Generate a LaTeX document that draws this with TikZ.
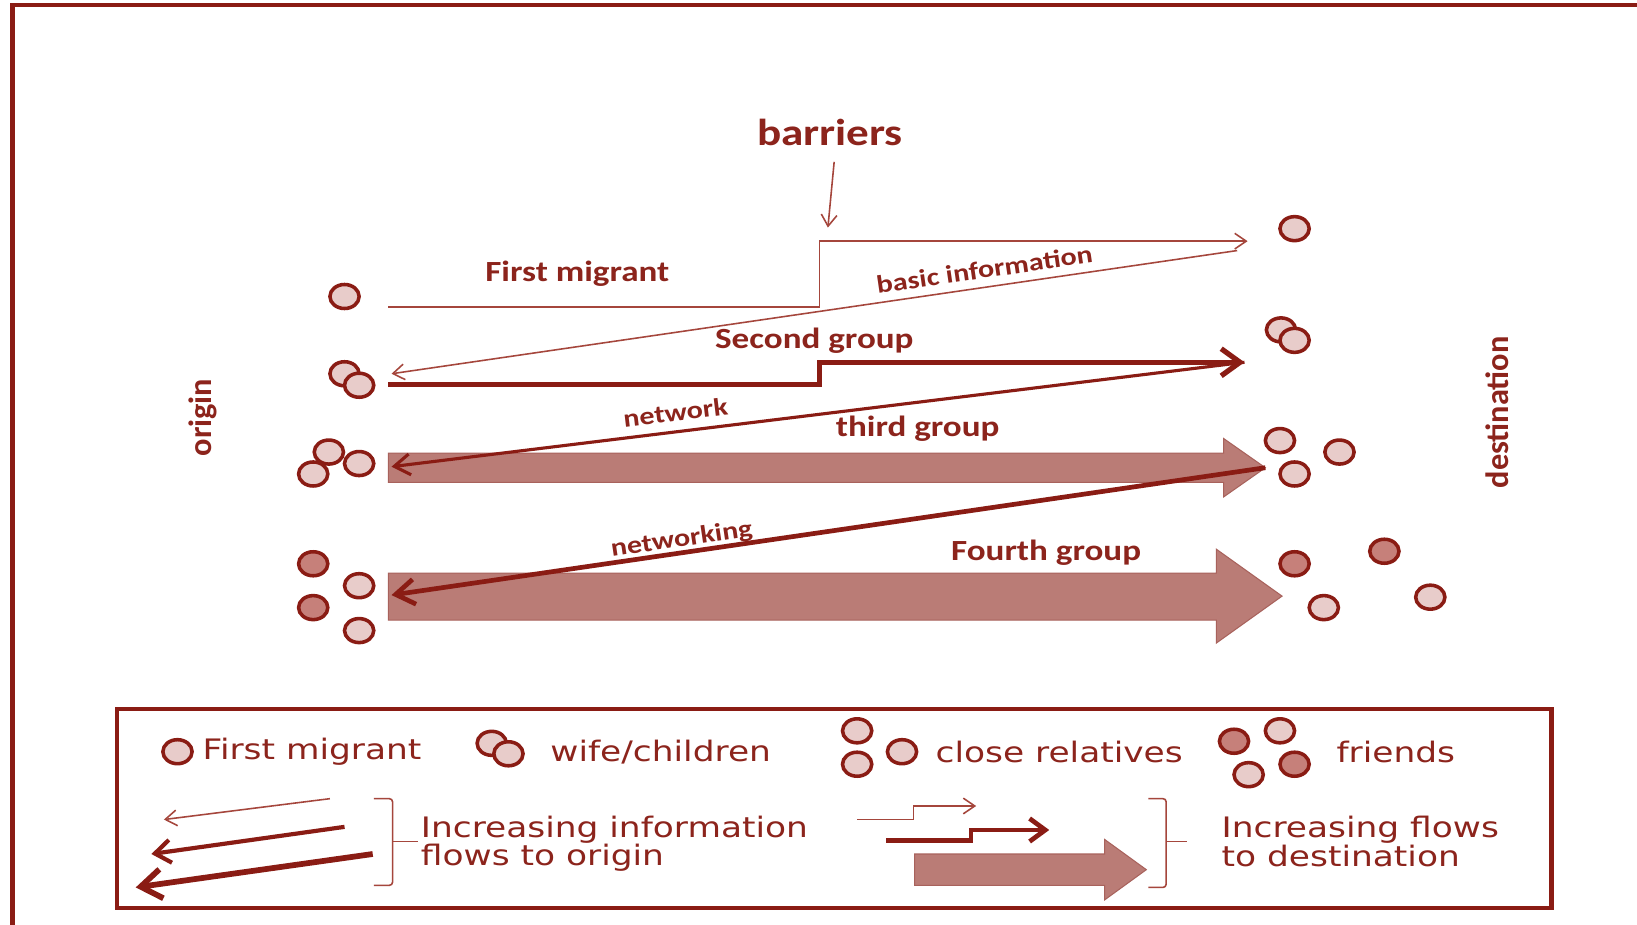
\documentclass[tikz,border=0pt]{standalone}
\usepackage{fontspec}
\usetikzlibrary{arrows.meta,shapes.geometric,positioning}
\newfontfamily\labfont{Carlito}[FakeStretch=1.2]
\newfontfamily\sidefont{Carlito}
\newfontfamily\keyfont{DejaVu Sans}[FakeStretch=1.22]

\definecolor{mig}{RGB}{138,28,20}
\definecolor{migtxt}{RGB}{140,36,28}
\definecolor{migthin}{RGB}{165,70,60}
\definecolor{arrfill}{RGB}{186,124,118}
\definecolor{arredge}{RGB}{168,98,92}
\definecolor{pale}{RGB}{232,204,202}
\definecolor{deep}{RGB}{198,128,122}

\tikzset{
  frame/.style={draw=mig, line width=4},
  pers/.style={ellipse, draw=mig, line width=3.4, fill=pale, minimum width=28, minimum height=23, inner sep=0},
  persd/.style={pers, fill=deep},
  lab/.style={text=migtxt, font=\labfont\bfseries\fontsize{28}{30}\selectfont},
  slab/.style={text=migtxt, font=\labfont\bfseries\fontsize{24}{26}\selectfont},
  side/.style={text=migtxt, font=\sidefont\bfseries\fontsize{31}{33}\selectfont, rotate=90},
  key/.style={text=migtxt, font=\keyfont\fontsize{27}{26}\selectfont, align=left, inner sep=0},
  flowA/.style={draw=migthin, line width=1.5, -{Straight Barb[length=11,width=15]}},
  flowB/.style={draw=mig, line width=5, -{Straight Barb[length=18,width=26]}},
  infoB/.style={draw=mig, line width=3, -{Straight Barb[length=15,width=20]}},
  infoC/.style={draw=mig, line width=4.5, -{Straight Barb[length=18,width=24]}},
  big/.style={fill=arrfill, draw=arredge, line width=1},
  brace/.style={draw=migthin, line width=1.5, rounded corners=3}
}

\begin{document}
\begin{tikzpicture}[x=1pt,y=-1pt]
\useasboundingbox (0,0) rectangle (1568,886);
\fill[white] (0,0) rectangle (1568,886);
\draw[frame] (12,886) -- (12,5) -- (1568,5);

%% barriers
\node[lab, font=\labfont\bfseries\fontsize{36}{38}\selectfont] (bar) at (795,127) {barriers};
\coordinate (barA) at (799,155);
\coordinate (barB) at (793,218);
\draw[flowA] (barA) -- (barB);

%% side labels
\node[side] (orig) at (194,400) {origin};
\node[side] (dest) at (1434,395) {destination};

%% big flows first
\coordinate (t3) at (1212,448);
\draw[big] (372,434) -- (1172,434) -- (1172,420) -- (t3) -- (1172,476) -- (1172,462) -- (372,462) -- cycle;
\coordinate (t4) at (1228,571);
\draw[big] (372,549) -- (1165,549) -- (1165,526) -- (t4) -- (1165,616) -- (1165,594) -- (372,594) -- cycle;

%% first migrant
\node[pers] (o1) at (330,284) {};
\node[pers] (d1) at (1240,219) {};
\coordinate (s1) at (372,294);
\coordinate (k1) at (785,231);
\coordinate (t1) at (1195,231);
\draw[flowA] (s1) -| (k1) -- (t1);
\node[lab] (l1) at (553,262) {First migrant};

%% second group
\node[pers] (o2a) at (330,358) {};
\node[pers] (o2b) at (344,369) {};
\node[pers] (d2a) at (1227,316) {};
\node[pers] (d2b) at (1240,326) {};
\coordinate (s2) at (372,368);
\coordinate (k2) at (785,347);
\coordinate (t2) at (1192,347);
\draw[flowB] (s2) -| (k2) -- (t2);
\node[lab] (l2) at (780,326) {Second group};

%% third group
\foreach \n/\x/\y in {a/315/433, b/300/454, c/344/444}
  \node[pers] (o3\n) at (\x,\y) {};
\foreach \n/\x/\y in {a/1226/422, b/1240/454, c/1283/433}
  \node[pers] (d3\n) at (\x,\y) {};
\node[lab] (l3) at (879,411) {third group};

%% fourth group
\node[persd] (o4a) at (300,540) {};
\node[pers]  (o4b) at (344,561) {};
\node[persd] (o4c) at (300,582) {};
\node[pers]  (o4d) at (344,604) {};
\node[persd] (d4a) at (1240,540) {};
\node[pers]  (d4b) at (1268,582) {};
\node[persd] (d4c) at (1326,528) {};
\node[pers]  (d4d) at (1370,572) {};
\node[lab] (l4) at (1002,529) {Fourth group};

%% information back to origin
\coordinate (b1) at (1185,240);
\coordinate (n1) at (375,358);
\draw[flowA] (b1) -- (n1);
\node[slab, rotate=8.3] (i1) at (943,258) {basic information};
\coordinate (n2) at (375,447);
\draw[infoB] (t2) -- (n2);
\node[slab, rotate=6.9] (i2) at (647,395) {network};
\coordinate (n3) at (375,570);
\draw[infoC] (t3) -- (n3);
\node[slab, rotate=8.4] (i3) at (653,517) {networking};

%% legend
\draw[frame] (112,679) rectangle (1486,870);
\node[pers] (k1c) at (170,720) {};
\node[key, anchor=west] (k1t) at (194,720) {First migrant};
\node[pers] (k2a) at (471,712) {};
\node[pers] (k2b) at (487,722) {};
\node[key, anchor=west] (k2t) at (527,720) {wife/children};
\foreach \n/\x/\y in {a/821/700, b/821/732, c/864/720}
  \node[pers] (k3\n) at (\x,\y) {};
\node[key, anchor=west] (k3t) at (896,720) {close relatives};
\node[persd] (k4a) at (1182,710) {};
\node[pers]  (k4b) at (1226,700) {};
\node[pers]  (k4c) at (1196,742) {};
\node[persd] (k4d) at (1240,732) {};
\node[key, anchor=west] (k4t) at (1280,720) {friends};

% flows to origin
\coordinate (ka1) at (316,765);
\coordinate (kb1) at (157,785);
\draw[flowA] (ka1) -- (kb1);
\coordinate (ka2) at (330,792);
\coordinate (kb2) at (145,818);
\draw[infoB, line width=4, -{Straight Barb[length=15,width=22]}] (ka2) -- (kb2);
\coordinate (ka3) at (357,818);
\coordinate (kb3) at (130,850);
\draw[infoC, line width=5.5, -{Straight Barb[length=20,width=28]}] (ka3) -- (kb3);
\draw[brace] (358,765) -- (376,765) -- (376,848) -- (358,848);
\draw[brace] (376,806) -- (400,806);
\node[key, anchor=west] (korig) at (403,808) {Increasing information\\flows to origin};

% flows to destination
\coordinate (kc1) at (821,785);
\coordinate (kd1) at (875,772);
\coordinate (ke1) at (935,772);
\draw[flowA] (kc1) -| (kd1) -- (ke1);
\coordinate (kc2) at (849,805);
\coordinate (kd2) at (930,795);
\coordinate (ke2) at (1005,795);
\draw[flowB, line width=4.5, -{Straight Barb[length=15,width=22]}] (kc2) -| (kd2) -- (ke2);
\coordinate (kt) at (1098,833);
\draw[big] (876,818) -- (1058,818) -- (1058,804) -- (kt) -- (1058,862) -- (1058,848) -- (876,848) -- cycle;
\draw[brace] (1100,765) -- (1117,765) -- (1117,850) -- (1100,850);
\draw[brace] (1117,806) -- (1137,806);
\node[key, anchor=west] (kdest) at (1170,806) {Increasing flows\\to destination};
\end{tikzpicture}
\end{document}
